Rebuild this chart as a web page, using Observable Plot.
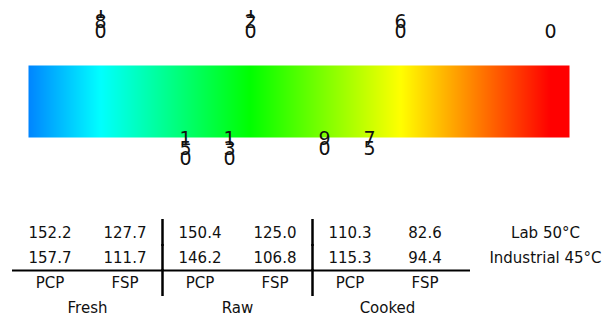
<!DOCTYPE html>
<html>
<head>
<meta charset="utf-8">
<script src="https://cdn.jsdelivr.net/npm/d3@7"></script>
<script src="https://cdn.jsdelivr.net/npm/@observablehq/plot@0.6"></script>
<style>
  html, body { margin: 0; padding: 0; background: #fff; }
  #bar { padding-top: 10px; }
  svg { display: block; }
</style>
</head>
<body>
<div id="bar"></div>
<div id="table"></div>
<script>
// ---- Colour bar data ----
const barStart = 208.8;           // value at the left end of the bar
const barEnd = -7.6;              // value at the right end of the bar
const stopValues = [240, 180, 120, 60, 0];
const stopColors = ["#0000ff", "#00ffff", "#00ff00", "#ffff00", "#ff0000"];
const topTicks = [180, 120, 60, 0];
const topLabels = ["180", "120", "60", "0"];
const markPositions = [146, 128.4, 90.4, 72.4];
const markLabels = ["150", "130", "90", "75"];

// ---- Table data ----
const groups = ["Fresh", "Raw", "Cooked"];
const products = ["PCP", "FSP"];
const conditions = ["Lab 50°C", "Industrial 45°C"];
const labValues = [152.2, 127.7, 150.4, 125.0, 110.3, 82.6];
const industrialValues = [157.7, 111.7, 146.2, 106.8, 115.3, 94.4];

const stack = s => s.split("").join("\n");
const FONT = "'DejaVu Sans', sans-serif";

const barPlot = Plot.plot({
  width: 606,
  height: 190,
  margin: 0,
  style: { overflow: "hidden", fontFamily: FONT, background: "white" },
  x: { domain: [180, 0], range: [100, 550], axis: null },
  y: { domain: [0, 1], range: [127, 55], axis: null },
  color: { type: "linear", domain: stopValues, range: stopColors, interpolate: "rgb", clamp: true },
  marks: [
    Plot.raster({ x1: barStart, x2: barEnd, y1: 0, y2: 1, fill: (x, y) => x, pixelSize: 1 }),
    Plot.text(topTicks, {
      x: d => d, y: () => 1, text: (d, i) => stack(topLabels[i]),
      lineAnchor: "bottom", lineHeight: 0.526, dy: -28, fontSize: 19, fill: "#111"
    }),
    Plot.text(markPositions, {
      x: d => d, y: () => 0, text: (d, i) => stack(markLabels[i]),
      lineAnchor: "top", lineHeight: 0.526, fontSize: 19, fill: "#111"
    })
  ]
});
document.getElementById("bar").append(barPlot);

// ---- Table ----
const columns = groups.flatMap(g => products.map(p => `${g} ${p}`));
const cells = conditions.flatMap((c, r) =>
  (r ? industrialValues : labValues).map((v, i) => ({ row: c, column: columns[i], value: v })));
const rows = [...conditions, "product", "group"];
const xRange = [12, 462];
const step = (xRange[1] - xRange[0]) / columns.length;
const yRange = [19, 120];
const ystep = (yRange[1] - yRange[0]) / rows.length;
const separators = [...conditions, "product"].flatMap(r =>
  groups.slice(1).map(g => ({ row: r, column: `${g} PCP` })));

const tablePlot = Plot.plot({
  width: 606,
  height: 118,
  marginLeft: 12,
  marginRight: 136,
  marginTop: 0,
  marginBottom: 0,
  style: { fontFamily: FONT, fontSize: "15px", background: "white", overflow: "hidden" },
  x: { type: "band", domain: columns, range: xRange, padding: 0, axis: null },
  y: { type: "band", domain: rows, range: yRange, padding: 0, axis: null },
  marks: [
    Plot.text(cells, { x: "column", y: "row", text: d => d.value.toFixed(1), fontSize: 15, fill: "#111" }),
    Plot.text(columns, { x: d => d, y: () => "product", text: d => d.split(" ")[1], fontSize: 15, fill: "#111" }),
    Plot.text(groups, { x: g => `${g} PCP`, y: () => "group", dx: step / 2, text: g => g, fontSize: 15, fill: "#111" }),
    Plot.text(conditions, { y: d => d, frameAnchor: "right", textAnchor: "middle", dx: 75, text: d => d, fontSize: 15, fill: "#111" }),
    Plot.ruleY(["product"], { y: d => d, dy: -ystep / 2, stroke: "black", strokeWidth: 2 }),
    Plot.tickX(separators, { x: "column", y: "row", dx: -step / 2, stroke: "black", strokeWidth: 2.5, insetTop: -1, insetBottom: -1 })
  ]
});
document.getElementById("table").append(tablePlot);
</script>
</body>
</html>
